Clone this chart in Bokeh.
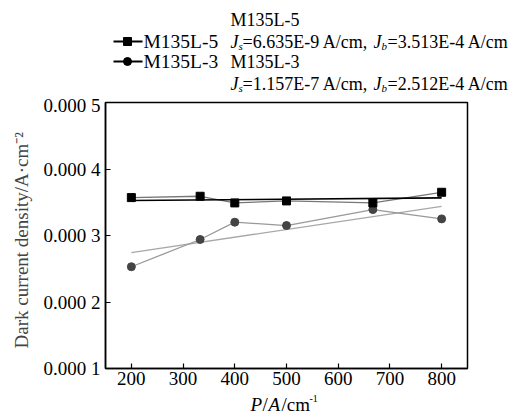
from bokeh.plotting import figure
from bokeh.layouts import column
from bokeh.models import Range1d, FixedTicker, ColumnDataSource
from bokeh.embed import file_html
from bokeh.resources import INLINE
from bokeh.core.properties import value

# ---- data ----
power = [200, 333, 400, 500, 667, 800]
m135l5 = [3.57e-4, 3.59e-4, 3.49e-4, 3.52e-4, 3.49e-4, 3.65e-4]
m135l3 = [2.53e-4, 2.94e-4, 3.20e-4, 3.15e-4, 3.39e-4, 3.25e-4]
fit_x = [200, 800]
fit_m135l5 = [3.526e-4, 3.566e-4]
fit_m135l3 = [2.743e-4, 3.438e-4]
y_ticks = [0.0001, 0.0002, 0.0003, 0.0004, 0.0005]
y_tick_labels = ["0.000 1", "0.000 2", "0.000 3", "0.000 4", "0.000 5"]
x_ticks = [200, 300, 400, 500, 600, 700, 800]
series_names = ["M135L-5", "M135L-3"]
fit_js = ["6.635E-9", "1.157E-7"]
fit_jb = ["3.513E-4", "2.512E-4"]

SERIF = "Liberation Serif"
W = 516


def no_align(f):
    try:
        f.frame_align = False
    except Exception:
        pass


def blank(height):
    f = figure(width=W, height=height, output_backend="svg", toolbar_location=None,
               x_range=Range1d(0, W), y_range=Range1d(height, 0),
               min_border=0, x_axis_location=None, y_axis_location=None)
    f.grid.visible = False
    f.outline_line_color = None
    f.background_fill_color = "white"
    f.border_fill_color = "white"
    no_align(f)
    return f


def txt(f, x, y, s, size="18px", style="normal"):
    f.text([x], [y], text=[s], text_font=value(SERIF), text_font_size=value(size),
           text_font_style=value(style), text_baseline="middle", text_align="left",
           text_color="black")


# ---- header: legend + fit parameters ----
head = blank(94)
rows = [41, 61]
markers = ["square", "circle"]
for name, r, m in zip(series_names, rows, markers):
    head.line([113, 142], [r, r], line_color="black", line_width=1.8)
    head.scatter([127], [r], marker=m, size=8, fill_color="black", line_color="black")
    txt(head, 143, r, name, size="19.5px")

blocks = [(19, 41), (61, 83)]
for name, js, jb, (ry, rj) in zip(series_names, fit_js, fit_jb, blocks):
    txt(head, 230, ry, name)
    txt(head, 230, rj, "J", style="italic")
    txt(head, 238, rj + 4, "s", size="11px", style="italic")
    txt(head, 242, rj, "=" + js + " A/cm,")
    txt(head, 373, rj, "J", style="italic")
    txt(head, 381, rj + 4, "b", size="11px", style="italic")
    txt(head, 387, rj, "=" + jb + " A/cm")

# ---- main chart ----
p = figure(width=W, height=300, output_backend="svg", toolbar_location=None,
           x_range=Range1d(150, 850), y_range=Range1d(0.0001, 0.0005),
           min_border_left=105, min_border_right=49, min_border_top=8,
           min_border_bottom=26)
no_align(p)
p.grid.visible = False
p.outline_line_color = "black"
p.outline_line_width = 1.5
p.background_fill_color = "white"
p.border_fill_color = "white"

for ax in (p.xaxis[0], p.yaxis[0]):
    ax.axis_line_width = 1.5
    ax.major_tick_in = 5
    ax.major_tick_out = 0
    ax.minor_tick_line_color = None
    ax.major_tick_line_width = 1.2
    ax.major_label_text_font = SERIF
    ax.major_label_text_font_size = "19px"
    ax.major_label_text_color = "black"

p.xaxis.ticker = FixedTicker(ticks=x_ticks)
p.xaxis.major_label_standoff = 3
p.yaxis.ticker = FixedTicker(ticks=y_ticks)
p.yaxis.major_label_overrides = {t: l for t, l in zip(y_ticks, y_tick_labels)}
p.yaxis.major_label_standoff = 5
p.yaxis.axis_label = "Dark  current  density/A\u00b7cm\u207b\u00b2"
p.yaxis.axis_label_text_font = SERIF
p.yaxis.axis_label_text_font_size = "19px"
p.yaxis.axis_label_text_font_style = "normal"
p.yaxis.axis_label_standoff = 9

src5 = ColumnDataSource(dict(x=power, y=m135l5))
src3 = ColumnDataSource(dict(x=power, y=m135l3))
p.line(fit_x, fit_m135l3, line_color="#a8a8a8", line_width=1.3)
p.line("x", "y", source=src3, line_color="#999999", line_width=1.3)
p.line("x", "y", source=src5, line_color="#777777", line_width=1.3)
p.line(fit_x, fit_m135l5, line_color="black", line_width=1.6)
p.scatter("x", "y", source=src3, marker="circle", size=8, fill_color="#444444", line_color="#444444")
p.scatter("x", "y", source=src5, marker="square", size=8, fill_color="black", line_color="black")

# ---- footer: x axis label P/A/cm^-1 ----
foot = blank(20)
txt(foot, 250, 10, "P", size="19px", style="italic")
txt(foot, 262, 10, "/", size="19px")
txt(foot, 268, 10, "A", size="19px", style="italic")
txt(foot, 281, 10, "/cm", size="19px")
txt(foot, 309, 4, "-1", size="10px")

layout = column(head, p, foot, spacing=0)
open("out.html", "w").write(file_html(layout, INLINE))
